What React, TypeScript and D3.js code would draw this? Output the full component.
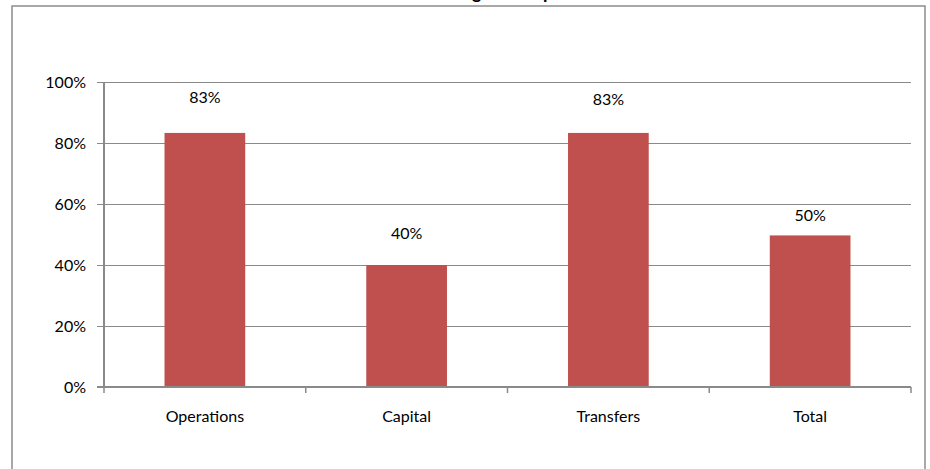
import React from "react";
import * as d3 from "d3";

const title = "Budget vs Expenditure";
const categories = ["Operations", "Capital", "Transfers", "Total"];
const values = [0.833, 0.4, 0.833, 0.497];
// level (in value units) at which each data label is centred
const labelLevels = [0.948, 0.502, 0.944, 0.564];
const yTicks = [0, 0.2, 0.4, 0.6, 0.8, 1.0];

const W = 930;
const H = 469;
const plot = { left: 104, right: 911, top: 82, bottom: 387 };
const FONT = "Lato, 'Open Sans', sans-serif";
const BAR = "#C0504D";
const GRID = "#8a8a8a";
const AXIS = "#8a8a8a";

export default function App() {
  const x = d3.scaleBand<string>().domain(categories).range([plot.left, plot.right]).padding(0);
  const y = d3.scaleLinear().domain([0, 1]).range([plot.bottom, plot.top]);
  const fmt = d3.format(".0%");
  const barW = x.bandwidth() * 0.4;
  const step = x.step();
  const boundaries = d3.range(categories.length + 1).map((i) => plot.left + i * step);

  return (
    <svg
      width={W}
      height={H}
      style={{ position: "absolute", left: 0, top: 0, background: "#fff" }}
      fontFamily={FONT}
    >
      <rect x={0} y={0} width={W} height={H} fill="#fff" />
      {/* chart frame */}
      <rect x={12} y={6} width={913} height={480} fill="#fff" stroke="#8c8c8c" strokeWidth={1.5} />
      {/* title (mostly cut off above the frame) */}
      <text x={440} y={-1} fontSize={18} fontWeight="bold" fill="#000" fontFamily={FONT}>
        {title}
      </text>

      {/* gridlines */}
      {yTicks.map((t) => (
        <line
          key={"g" + t}
          x1={plot.left - 7}
          x2={plot.right}
          y1={y(t)}
          y2={y(t)}
          stroke={GRID}
          strokeWidth={1}
          shapeRendering="crispEdges"
        />
      ))}

      {/* y tick labels */}
      {yTicks.map((t) => (
        <text
          key={"yl" + t}
          x={86}
          y={y(t)}
          dy="0.35em"
          textAnchor="end"
          fontSize={16}
          fill="#000"
        >
          {fmt(t)}
        </text>
      ))}

      {/* bars */}
      {categories.map((c, i) => (
        <rect
          key={"b" + c}
          x={(x(c) as number) + (x.bandwidth() - barW) / 2}
          y={y(values[i])}
          width={barW}
          height={y(0) - y(values[i])}
          fill={BAR}
        />
      ))}

      {/* value labels */}
      {categories.map((c, i) => (
        <text
          key={"v" + c}
          x={(x(c) as number) + x.bandwidth() / 2}
          y={y(labelLevels[i])}
          dy="0.35em"
          textAnchor="middle"
          fontSize={16}
          fill="#000"
        >
          {fmt(values[i])}
        </text>
      ))}

      {/* y axis */}
      <line x1={plot.left} x2={plot.left} y1={plot.top} y2={plot.bottom} stroke={AXIS} strokeWidth={2} />
      {/* x axis */}
      <line x1={plot.left - 7} x2={plot.right} y1={plot.bottom} y2={plot.bottom} stroke={AXIS} strokeWidth={2} />
      {boundaries.map((bx, i) => (
        <line key={"xt" + i} x1={bx} x2={bx} y1={plot.bottom} y2={plot.bottom + 6} stroke={AXIS} strokeWidth={1.5} />
      ))}

      {/* x labels */}
      {categories.map((c) => (
        <text
          key={"xl" + c}
          x={(x(c) as number) + x.bandwidth() / 2}
          y={416}
          dy="0.35em"
          textAnchor="middle"
          fontSize={16}
          fill="#000"
        >
          {c}
        </text>
      ))}
    </svg>
  );
}
